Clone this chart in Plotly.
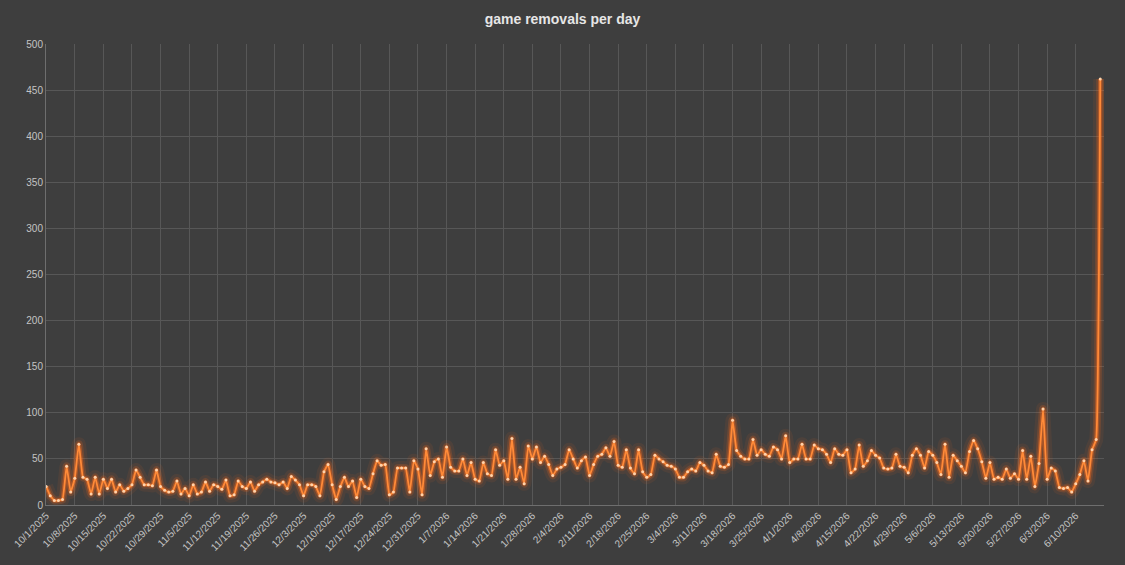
import pandas as pd
import plotly.graph_objects as go

# daily game removals
oct_2025 = [20, 10, 5, 5, 6, 42, 14, 29, 66, 30, 28, 12, 30, 12, 28, 18, 28, 14, 22, 15,
            18, 22, 38, 30, 22, 22, 21, 38, 20, 16, 14]
nov_2025 = [15, 26, 12, 18, 10, 22, 12, 14, 25, 15, 22, 20, 17, 27, 10, 11, 26, 20, 18, 25,
            15, 22, 25, 28, 25, 24, 22, 25, 18, 31]
dec_2025 = [27, 22, 10, 22, 22, 20, 10, 36, 44, 22, 6, 20, 30, 20, 26, 8, 28, 20, 18, 34,
            48, 43, 44, 11, 14, 40, 40, 40, 14, 48, 39]
jan_2026 = [11, 61, 32, 47, 50, 30, 63, 41, 37, 37, 50, 32, 46, 28, 26, 46, 34, 32, 60, 43,
            48, 28, 72, 28, 41, 23, 64, 50, 63, 46, 53]
feb_2026 = [44, 32, 39, 41, 44, 60, 50, 40, 48, 52, 32, 44, 53, 55, 62, 53, 69, 43, 41, 60,
            40, 34, 60, 36, 30, 33, 54, 50]
mar_2026 = [47, 43, 42, 39, 30, 30, 36, 39, 37, 46, 43, 37, 35, 55, 42, 41, 44, 92, 59, 53,
            50, 50, 71, 54, 60, 55, 53, 63, 60, 50, 75]
apr_2026 = [46, 50, 50, 66, 50, 50, 65, 61, 60, 55, 46, 61, 55, 54, 60, 35, 39, 65, 42, 48,
            59, 54, 51, 40, 39, 40, 55, 42, 41, 35]
may_2026 = [54, 61, 54, 40, 58, 54, 46, 33, 66, 30, 54, 48, 42, 35, 58, 70, 61, 47, 29, 46,
            28, 30, 28, 39, 29, 34, 28, 59, 28, 53, 20]
jun_2026 = [45, 104, 28, 40, 37, 19, 18, 19, 14, 23, 33, 48, 26, 60, 71, 462]

removals = oct_2025 + nov_2025 + dec_2025 + jan_2026 + feb_2026 + mar_2026 + apr_2026 + may_2026 + jun_2026
days = pd.date_range("2025-10-01", periods=len(removals), freq="D")

bg = "#3e3e3e"
grid = "#575757"
text = "#c4c4c4"

fig = go.Figure()

# soft glow under the line
for w, op in [(14, 0.08), (8, 0.18), (4.5, 0.4)]:
    fig.add_trace(go.Scatter(x=days, y=removals, mode="lines",
                             line=dict(color="#ff6a1a", width=w, shape="spline", smoothing=0.3),
                             opacity=op, hoverinfo="skip", showlegend=False))

fig.add_trace(go.Scatter(x=days, y=removals, mode="lines+markers", name="removals",
                         line=dict(color="#ff8a38", width=1.8, shape="spline", smoothing=0.3),
                         marker=dict(color="#ffd2aa", size=3),
                         showlegend=False))

fig.update_layout(
    width=1125, height=565,
    paper_bgcolor=bg, plot_bgcolor=bg,
    margin=dict(l=43, r=21, t=44, b=59),
    title=dict(text="<b>game removals per day</b>", x=0.5, xanchor="center",
               y=1 - 19 / 565, yanchor="middle",
               font=dict(family="Liberation Sans, Arial, sans-serif", size=14, color="#e6e6e6")),
    font=dict(family="Liberation Sans, Arial, sans-serif", color=text),
)

fig.update_xaxes(
    type="date",
    range=["2025-09-30 23:00", "2026-06-16 22:00"],
    tick0="2025-10-01", dtick=7 * 86400000,
    tickformat="%-m/%-d/%Y", tickangle=-45,
    tickfont=dict(size=10, color=text),
    showgrid=True, gridcolor=grid, gridwidth=1,
    showline=True, linecolor="#6e6e6e", linewidth=1,
    zeroline=False, ticks="",
)
fig.update_yaxes(
    range=[0, 500], dtick=50,
    tickfont=dict(size=10, color=text),
    showgrid=True, gridcolor=grid, gridwidth=1,
    showline=True, linecolor="#6e6e6e", linewidth=1,
    zeroline=False, ticks="",
)

fig.write_html("out.html", config={"displayModeBar": False},
               post_script="document.body.style.margin='0';")
